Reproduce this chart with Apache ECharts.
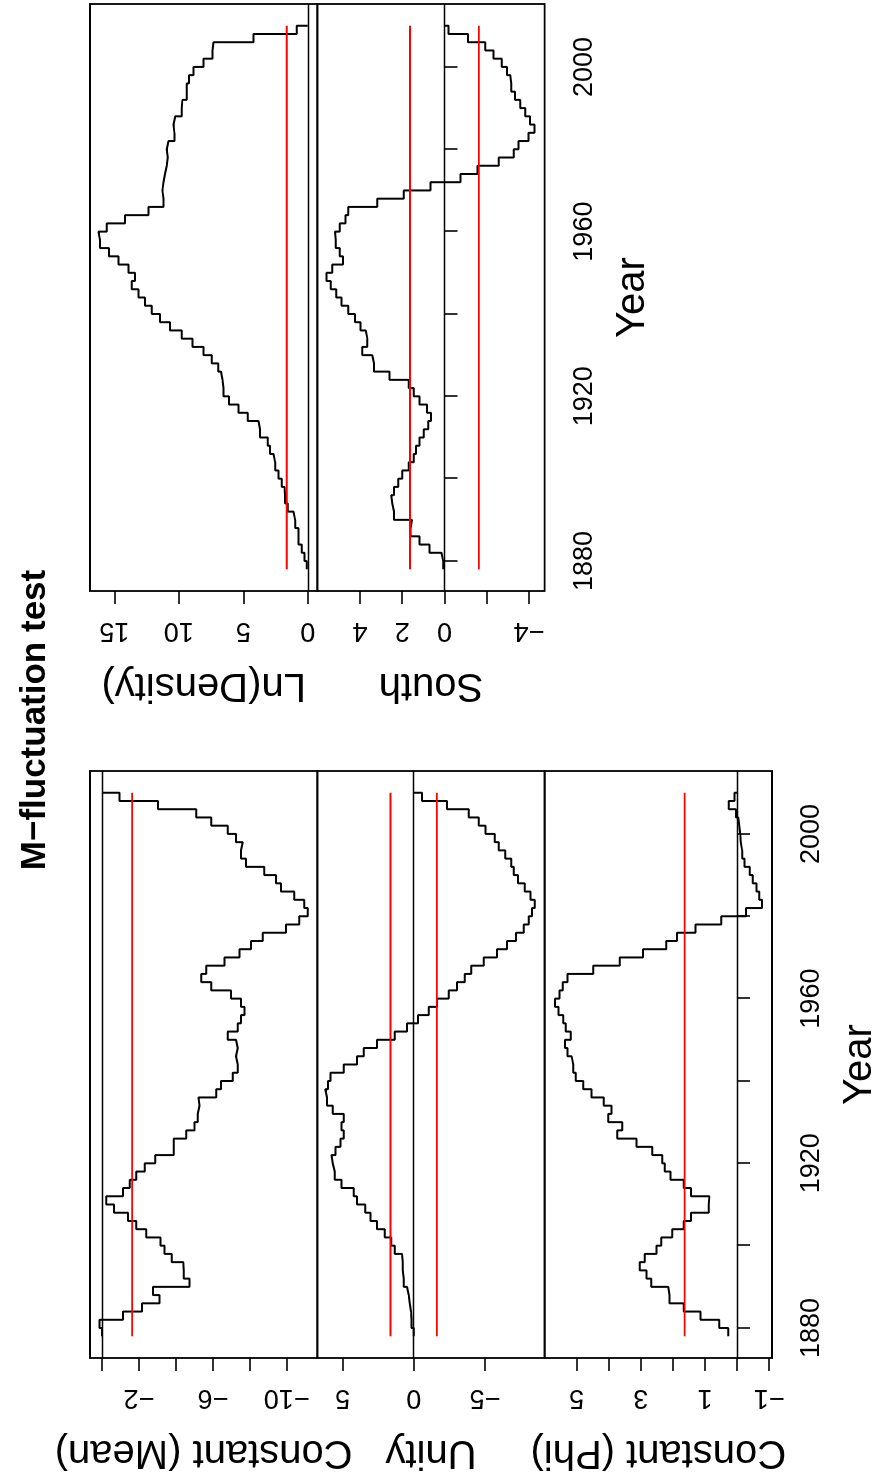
<!DOCTYPE html>
<html>
<head>
<meta charset="utf-8">
<title>M-fluctuation test</title>
<script src="https://cdn.jsdelivr.net/npm/echarts@6/dist/echarts.min.js"></script>
<style>
  html, body { margin: 0; padding: 0; background: #fff; overflow: hidden; }
  #page { position: relative; width: 874px; height: 1482px; overflow: hidden; }
  /* the plot is laid out landscape and turned a quarter turn, like the reference */
  #chart { position: absolute; left: 0; top: 0; width: 1482px; height: 874px;
           transform-origin: 0 0; transform: translate(0, 1482px) rotate(-90deg); }
</style>
</head>
<body>
<div id="page"><div id="chart"></div></div>
<script>
// election years (every two years)
var years = [1878, 1880, 1882, 1884, 1886, 1888, 1890, 1892, 1894, 1896,
  1898, 1900, 1902, 1904, 1906, 1908, 1910, 1912, 1914, 1916,
  1918, 1920, 1922, 1924, 1926, 1928, 1930, 1932, 1934, 1936,
  1938, 1940, 1942, 1944, 1946, 1948, 1950, 1952, 1954, 1956,
  1958, 1960, 1962, 1964, 1966, 1968, 1970, 1972, 1974, 1976,
  1978, 1980, 1982, 1984, 1986, 1988, 1990, 1992, 1994, 1996,
  1998, 2000, 2002, 2004, 2006, 2008, 2010];

var constMean = [0, 0.13, -1.14, -2.16, -3.12, -2.76, -4.74, -4.43, -4.40, -3.78,
  -3.39, -3.17, -2.40, -1.86, -1.41, -0.65, -0.23, -1.14, -1.50, -1.86,
  -2.31, -2.88, -3.89, -3.89, -4.56, -5.01, -5.19, -5.28, -5.23, -6.18,
  -6.45, -7.08, -7.35, -7.26, -7.35, -7.26, -6.81, -7.35, -7.53, -7.71,
  -7.53, -6.99, -5.91, -5.37, -5.64, -6.63, -7.44, -8.07, -8.70, -9.96,
  -10.68, -11.14, -10.95, -10.41, -9.69, -9.42, -8.79, -7.80, -7.53, -7.62,
  -7.26, -6.81, -5.91, -5.10, -3.03, -0.95, 0];

var unity = [0, 0.16, 0.19, 0.28, 0.35, 0.47, 0.70, 0.77, 0.77, 0.82,
  1.33, 1.57, 2.04, 2.58, 3.04, 3.40, 3.98, 4.22, 5.08, 5.55,
  5.69, 5.78, 5.50, 5.15, 4.92, 5.08, 4.92, 5.69, 6.09, 6.21,
  6.02, 5.85, 4.92, 3.98, 3.51, 2.58, 1.33, 0.47, -0.30, -1.05,
  -1.64, -2.46, -3.04, -3.58, -4.05, -4.92, -5.85, -6.56, -7.19, -7.73,
  -8.08, -8.31, -8.50, -8.20, -7.80, -7.33, -7.03, -6.86, -6.44, -5.97,
  -5.69, -5.04, -4.57, -3.86, -2.34, -0.59, 0];

var constPhi = [0.27, 0.55, 1.14, 1.66, 2.10, 2.14, 2.67, 2.82, 3.03, 2.87,
  2.51, 2.36, 2.02, 1.66, 1.43, 0.88, 0.86, 1.43, 1.66, 2.07,
  2.25, 2.33, 2.64, 3.13, 3.73, 3.57, 4.01, 3.91, 4.15, 4.53,
  4.79, 5.02, 5.10, 5.15, 5.28, 5.36, 5.18, 5.33, 5.41, 5.56,
  5.67, 5.53, 5.43, 5.28, 4.48, 3.65, 2.93, 2.20, 1.87, 1.29,
  0.49, -0.28, -0.78, -0.69, -0.61, -0.49, -0.40, -0.23, -0.16, -0.12,
  -0.10, -0.07, -0.04, 0.03, 0.26, 0.08, 0];

var lnDensity = [0.08, 0.26, 0.47, 0.72, 0.72, 0.98, 1.11, 1.55, 1.76, 1.81,
  2.02, 2.27, 2.53, 2.66, 2.92, 3.10, 3.70, 3.82, 4.65, 5.37,
  6.10, 6.54, 6.61, 6.72, 6.93, 7.44, 8.09, 8.94, 9.77, 10.67,
  11.45, 12.09, 12.61, 13.13, 13.64, 13.39, 13.90, 14.68, 15.40, 16.10,
  16.23, 15.58, 14.16, 12.35, 11.19, 11.27, 11.19, 11.06, 10.93, 10.85,
  10.93, 10.80, 10.34, 10.41, 10.28, 9.77, 9.72, 9.38, 9.38, 9.20,
  8.86, 8.09, 7.39, 7.31, 4.21, 0.85, 0];

var south = [0.06, 0.14, 0.71, 1.18, 1.61, 1.53, 2.39, 2.47, 2.52, 2.39,
  2.19, 2.00, 1.69, 1.45, 1.34, 1.18, 0.98, 0.77, 0.63, 0.82,
  1.18, 1.45, 1.69, 2.60, 3.34, 3.42, 3.89, 3.65, 3.73, 3.97,
  4.24, 4.55, 4.87, 5.12, 5.39, 5.59, 5.31, 4.80, 4.96, 5.15,
  5.18, 4.96, 4.68, 4.55, 3.18, 1.92, 0.66, -0.76, -1.57, -2.57,
  -3.28, -3.51, -3.98, -4.27, -4.06, -3.83, -3.59, -3.35, -3.17, -3.12,
  -2.96, -2.72, -2.33, -1.94, -1.12, -0.20, 0];

// critical boundary of the test (drawn at +/-)
var boundary = 1.63;

var yearTicks = [1880, 1900, 1920, 1940, 1960, 1980, 2000];
var yearLabels = [1880, 1920, 1960, 2000];
var meanTicks = [0, -2, -4, -6, -8, -10];
var meanLabels = [-2, -6, -10];
var unityTicks = [5, 0, -5];
var phiTicks = [5, 4, 3, 2, 1, 0, -1];
var phiLabels = [5, 3, 1, -1];
var densityTicks = [15, 10, 5, 0];
var southTicks = [4, 2, 0, -2, -4];
var southLabels = [4, 2, 0, -4];

var font = "'Liberation Sans', Arial, Helvetica, sans-serif";
var panelH = 227.33;

var panels = [
  { name: 'Constant (Mean)', values: constMean, min: -11.66, max: 0.65, ticks: meanTicks, labels: meanLabels, left: 124, top: 90, last: false },
  { name: 'Unity', values: unity, min: -9.2, max: 6.77, ticks: unityTicks, labels: unityTicks, left: 124, top: 90 + panelH, last: false },
  { name: 'Constant (Phi)', values: constPhi, min: -1.09, max: 5.99, ticks: phiTicks, labels: phiLabels, left: 124, top: 90 + 2 * panelH, last: true },
  { name: 'Ln(Density)', values: lnDensity, min: -0.74, max: 16.88, ticks: densityTicks, labels: densityTicks, left: 891, top: 90, last: false },
  { name: 'South', values: south, min: -4.75, max: 6.02, ticks: southTicks, labels: southLabels, left: 891, top: 90 + panelH, last: true }
];

function signed(v) {
  return v < 0 ? '\u2212' + Math.abs(v) : String(v);
}

var grid = [], xAxis = [], yAxis = [], series = [];

panels.forEach(function (p, i) {
  grid.push({
    left: p.left, top: p.top, width: 587, height: panelH,
    show: true, borderColor: '#000', borderWidth: 1.8, backgroundColor: 'transparent',
    outerBoundsMode: 'none'
  });
  xAxis.push({
    type: 'value', gridIndex: i, min: 1872.72, max: 2015.28,
    axisLine: { show: false },
    splitLine: { show: false },
    axisTick: { show: p.last, customValues: yearTicks, length: 13, lineStyle: { color: '#000', width: 1.6 } },
    axisLabel: {
      show: p.last, customValues: yearLabels, margin: 26, fontSize: 27, color: '#000', fontFamily: font,
      formatter: function (v) { return String(v); }
    },
    name: p.last ? 'Year' : '', nameLocation: 'middle', nameGap: 68,
    nameTextStyle: { fontSize: 40, color: '#000', fontFamily: font }
  });
  yAxis.push({
    type: 'value', gridIndex: i, min: p.min, max: p.max,
    axisLine: { show: false },
    splitLine: { show: false },
    axisTick: { show: true, customValues: p.ticks, length: 13, lineStyle: { color: '#000', width: 1.6 } },
    axisLabel: {
      customValues: p.labels, rotate: 90, margin: 26, fontSize: 27, color: '#000', fontFamily: font,
      formatter: signed
    },
    name: p.name, nameLocation: 'middle', nameGap: 74, nameRotate: 90,
    nameTextStyle: { fontSize: 40, color: '#000', fontFamily: font }
  });

  series.push({
    type: 'line', xAxisIndex: i, yAxisIndex: i, step: 'end', symbol: 'none', silent: true,
    data: years.map(function (y, k) { return [y, p.values[k]]; }),
    lineStyle: { color: '#000', width: 2 },
    markLine: {
      silent: true, symbol: 'none', label: { show: false },
      lineStyle: { color: '#000', width: 1.4, type: 'solid' },
      data: [{ yAxis: 0 }]
    }
  });
  [boundary, -boundary].forEach(function (b) {
    series.push({
      type: 'line', xAxisIndex: i, yAxisIndex: i, symbol: 'none', silent: true,
      data: [[years[0], b], [years[years.length - 1], b]],
      lineStyle: { color: '#ff0000', width: 1.8 }
    });
  });
});

var chart = echarts.init(document.getElementById('chart'), null, { renderer: 'canvas' });
chart.setOption({
  animation: false,
  backgroundColor: '#fff',
  title: {
    text: 'M\u2212fluctuation test', left: 757, top: 13, textAlign: 'center',
    textStyle: { fontSize: 35, fontWeight: 'bold', color: '#000', fontFamily: font }
  },
  grid: grid,
  xAxis: xAxis,
  yAxis: yAxis,
  series: series
});
</script>
</body>
</html>
